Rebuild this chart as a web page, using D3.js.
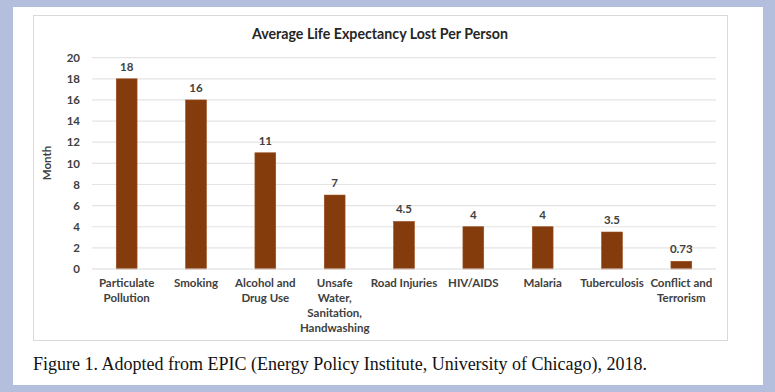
<!DOCTYPE html>
<html><head><meta charset="utf-8">
<script src="https://cdn.jsdelivr.net/npm/d3@7"></script>
<style>body{margin:0;background:#b3bfdd;} svg{display:block;}</style>
</head><body>
<script>
const categories = [["Particulate","Pollution"],["Smoking"],["Alcohol and","Drug Use"],["Unsafe","Water,","Sanitation,","Handwashing"],["Road Injuries"],["HIV/AIDS"],["Malaria"],["Tuberculosis"],["Conflict and","Terrorism"]];
const values = [18,16,11,7,4.5,4,4,3.5,0.73];
const valueLabels = ["18","16","11","7","4.5","4","4","3.5","0.73"];
const yTicks = [0,2,4,6,8,10,12,14,16,18,20];
const title = "Average Life Expectancy Lost Per Person";
const yLabel = "Month";
const caption = "Figure 1. Adopted from EPIC (Energy Policy Institute, University of Chicago), 2018.";

const W = 775, H = 392;
const svg = d3.select("body").append("svg").attr("width", W).attr("height", H);
svg.append("rect").attr("width", W).attr("height", H).attr("fill", "#b3bfdd");
svg.append("rect").attr("x", 13).attr("y", 7).attr("width", 750).attr("height", 378).attr("fill", "#fff");
svg.append("rect").attr("x", 33.5).attr("y", 15.5).attr("width", 694).attr("height", 325).attr("fill", "#fff").attr("stroke", "#d9d9d9").attr("stroke-width", 1);

const font = "Lato, 'Open Sans', sans-serif";
const x = d3.scaleBand().domain(d3.range(values.length)).range([92, 716]).paddingInner(0.7).paddingOuter(0.35);
const y = d3.scaleLinear().domain([0, 20]).range([269, 57.7]);

// gridlines
svg.append("g").selectAll("line").data(yTicks.filter(d => d > 0)).join("line")
  .attr("x1", 92).attr("x2", 716).attr("y1", d => y(d)).attr("y2", d => y(d))
  .attr("stroke", "#e4e4e4").attr("stroke-width", 1.2);

// y axis
const ya = svg.append("g").attr("transform", "translate(92,0)")
  .call(d3.axisLeft(y).tickValues(yTicks).tickSize(0).tickPadding(12));
ya.select(".domain").remove();
ya.selectAll("text").attr("font-family", font).attr("font-size", 11.5).attr("font-weight", "bold").attr("fill", "#404040");

// bars
svg.append("g").selectAll("rect").data(values).join("rect")
  .attr("x", (d, i) => x(i)).attr("width", x.bandwidth())
  .attr("y", d => y(d)).attr("height", d => y(0) - y(d))
  .attr("fill", "#843c0c").attr("stroke", "#9a4a1c").attr("stroke-width", 0.6);

// baseline
svg.append("line").attr("x1", 92).attr("x2", 716).attr("y1", y(0)).attr("y2", y(0)).attr("stroke", "#d9d9d9").attr("stroke-width", 1.2);

// value labels
svg.append("g").selectAll("text").data(values).join("text")
  .attr("x", (d, i) => x(i) + x.bandwidth() / 2).attr("y", d => y(d) - 8)
  .attr("text-anchor", "middle").attr("font-family", font).attr("font-size", 11.5).attr("font-weight", "bold").attr("fill", "#404040")
  .text((d, i) => valueLabels[i]);

// x labels
const xl = svg.append("g").selectAll("text").data(categories).join("text")
  .attr("text-anchor", "middle").attr("font-family", font).attr("font-size", 11.5).attr("font-weight", "bold").attr("fill", "#404040")
  .attr("transform", (d, i) => `translate(${x(i) + x.bandwidth() / 2},287)`);
xl.selectAll("tspan").data(d => d).join("tspan").attr("x", 0).attr("dy", (d, j) => j === 0 ? 0 : 15).text(d => d);

// title
svg.append("text").attr("x", 380).attr("y", 39).attr("text-anchor", "middle")
  .attr("font-family", font).attr("font-size", 14.2).attr("font-weight", "bold").attr("fill", "#262626").text(title);

// y label
svg.append("text").attr("transform", "translate(51,163) rotate(-90)").attr("text-anchor", "middle")
  .attr("font-family", font).attr("font-size", 11.5).attr("font-weight", "bold").attr("fill", "#404040").text(yLabel);

// caption
svg.append("text").attr("x", 33).attr("y", 370).attr("font-family", "'Liberation Serif', 'Times New Roman', serif")
  .attr("font-size", 18).attr("fill", "#111").text(caption);
</script>
</body></html>
